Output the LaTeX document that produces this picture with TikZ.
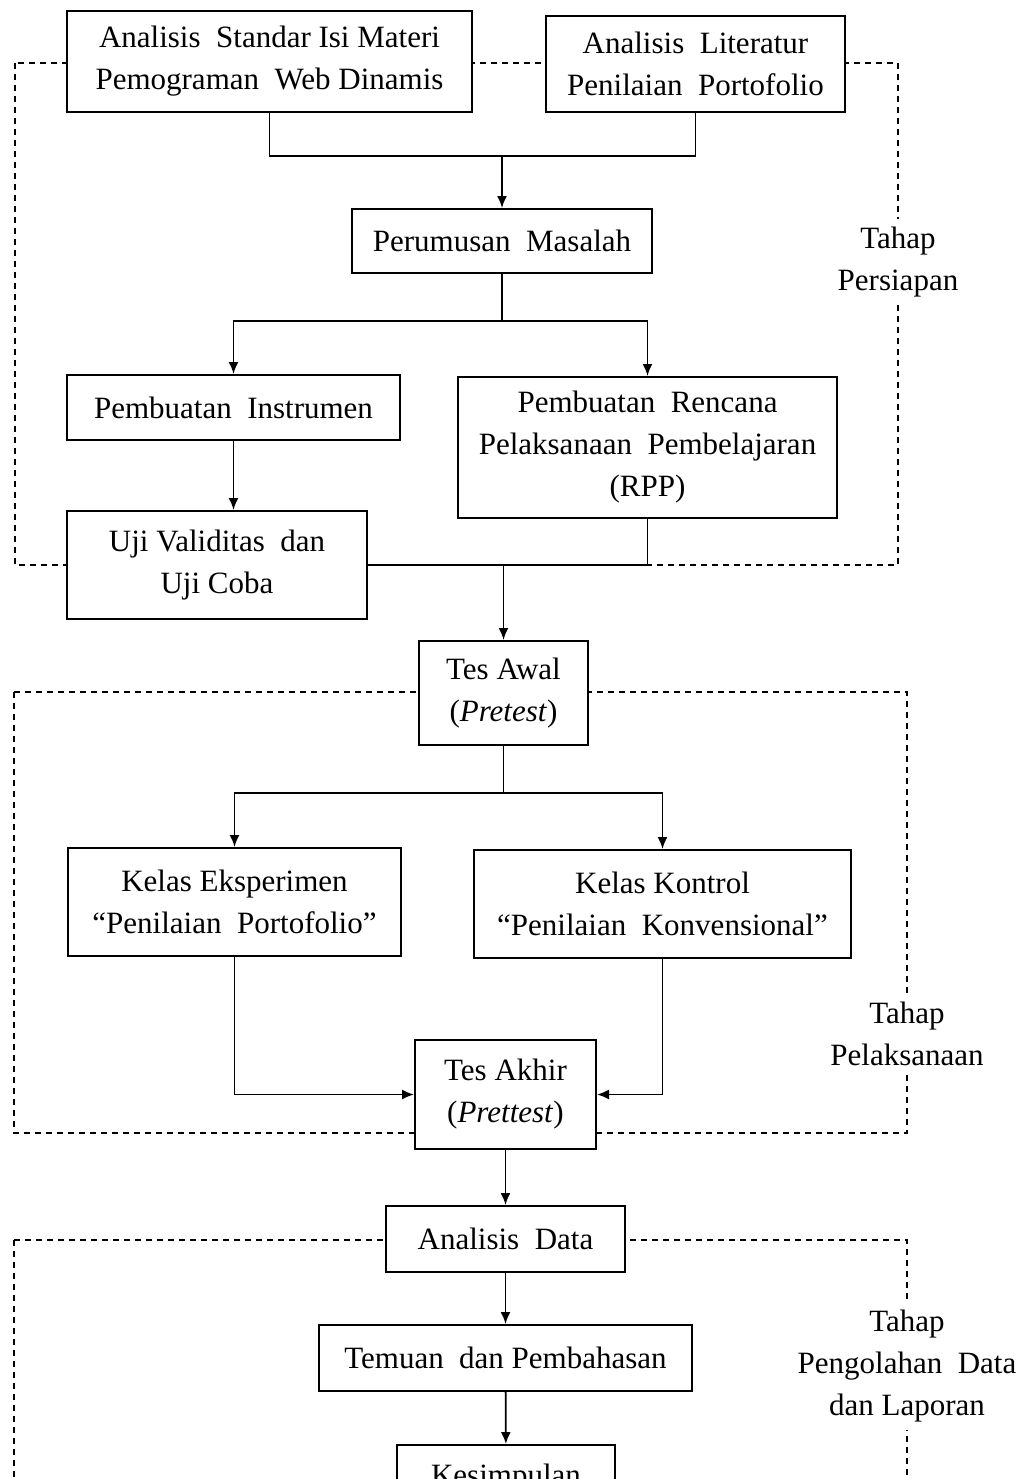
\documentclass[tikz,border=0pt]{standalone}
\usepackage{fontspec}
\setmainfont{Liberation Serif}
\usetikzlibrary{arrows.meta}

\tikzset{
    box/.style={draw, fill=white, line width=1pt, align=center, inner sep=0pt,
        font=\fontsize{15.5}{21}\selectfont},
    arr/.style={-{Latex[length=6pt,width=5pt]}, line width=0.9pt},
    link/.style={line width=0.9pt},
    phase/.style={dashed, dash pattern=on 3pt off 2.5pt, line width=0.9pt},
    phaselabel/.style={fill=white, align=center, inner sep=4pt,
        font=\fontsize{15.5}{21}\selectfont}
}

\begin{document}
\begin{tikzpicture}[x=0.5pt, y=-0.5pt]

    \useasboundingbox (0,0) rectangle (1016,1479);
    \clip (0,0) rectangle (1016,1479);

    % phase frames
    \draw[phase] (15,63) rectangle (898,565);
    \draw[phase] (14,692) rectangle (907,1133);
    \draw[phase] (14,1240) rectangle (907,1560);

    \node[phaselabel] (persiapan) at (898,262) {Tahap\\Persiapan};
    \node[phaselabel] (pelaksanaan) at (907,1034) {Tahap\\Pelaksanaan};
    \node[phaselabel] (pengolahan) at (907,1366) {Tahap\\Pengolahan~ Data\\dan Laporan};

    % boxes
    \node[box, minimum width=202.5pt, minimum height=50.5pt] (standar) at (269.5,61.5)
        {Analisis~ Standar Isi Materi\\Pemograman~ Web Dinamis};
    \node[box, minimum width=149.5pt, minimum height=48pt] (literatur) at (695.5,64)
        {Analisis~ Literatur\\Penilaian~ Portofolio};
    \node[box, minimum width=150pt, minimum height=32pt] (rumusan) at (502,241)
        {Perumusan~ Masalah};
    \node[box, minimum width=166.5pt, minimum height=32.5pt] (instrumen) at (233.5,407.5)
        {Pembuatan~ Instrumen};
    \node[box, minimum width=189.5pt, minimum height=70.5pt] (rpp) at (647.5,447.5)
        {Pembuatan~ Rencana\\Pelaksanaan~ Pembelajaran\\(RPP)};
    \node[box, minimum width=150pt, minimum height=54pt] (uji) at (217,565)
        {Uji Validitas~ dan\\Uji Coba};
    \node[box, minimum width=84.5pt, minimum height=52pt] (pretest) at (503.5,693)
        {Tes Awal\\(\textit{Pretest})};
    \node[box, minimum width=166.5pt, minimum height=54pt] (eksperimen) at (234.5,902)
        {Kelas Eksperimen\\“Penilaian~ Portofolio”};
    \node[box, minimum width=188.5pt, minimum height=54pt] (kontrol) at (662.5,904)
        {Kelas Kontrol\\“Penilaian~ Konvensional”};
    \node[box, minimum width=90.5pt, minimum height=54.5pt] (posttest) at (505.5,1094.5)
        {Tes Akhir\\(\textit{Prettest})};
    \node[box, minimum width=119.5pt, minimum height=33pt] (analisis) at (505.5,1239)
        {Analisis~ Data};
    \node[box, minimum width=186.5pt, minimum height=33pt] (temuan) at (505.5,1358)
        {Temuan~ dan Pembahasan};
    \node[box, minimum width=109pt, minimum height=33pt] (simpulan) at (506,1478)
        {Kesimpulan};

    % connectors
    \coordinate (j1) at (502,156);
    \draw[link] (standar.south) |- (j1) -| (literatur.south);
    \draw[arr] (j1) -- (rumusan.north);

    \coordinate (j2) at (502,321);
    \draw[link] (rumusan.south) -- (j2);
    \draw[arr] (j2) -| (instrumen.north);
    \draw[arr] (j2) -| (rpp.north);

    \draw[arr] (instrumen.south) -- (instrumen.south |- uji.north);
    \draw[link] (uji.east) -| (rpp.south);
    \draw[arr] (pretest.north |- uji.east) -- (pretest.north);

    \coordinate (j3) at (503.5,793);
    \draw[link] (pretest.south) -- (j3);
    \draw[arr] (j3) -| (eksperimen.north);
    \draw[arr] (j3) -| (kontrol.north);

    \draw[arr] (eksperimen.south) |- (posttest.west);
    \draw[arr] (kontrol.south) |- (posttest.east);
    \draw[arr] (posttest) -- (analisis);
    \draw[arr] (analisis) -- (temuan);
    \draw[arr] (temuan) -- (simpulan);

\end{tikzpicture}
\end{document}
